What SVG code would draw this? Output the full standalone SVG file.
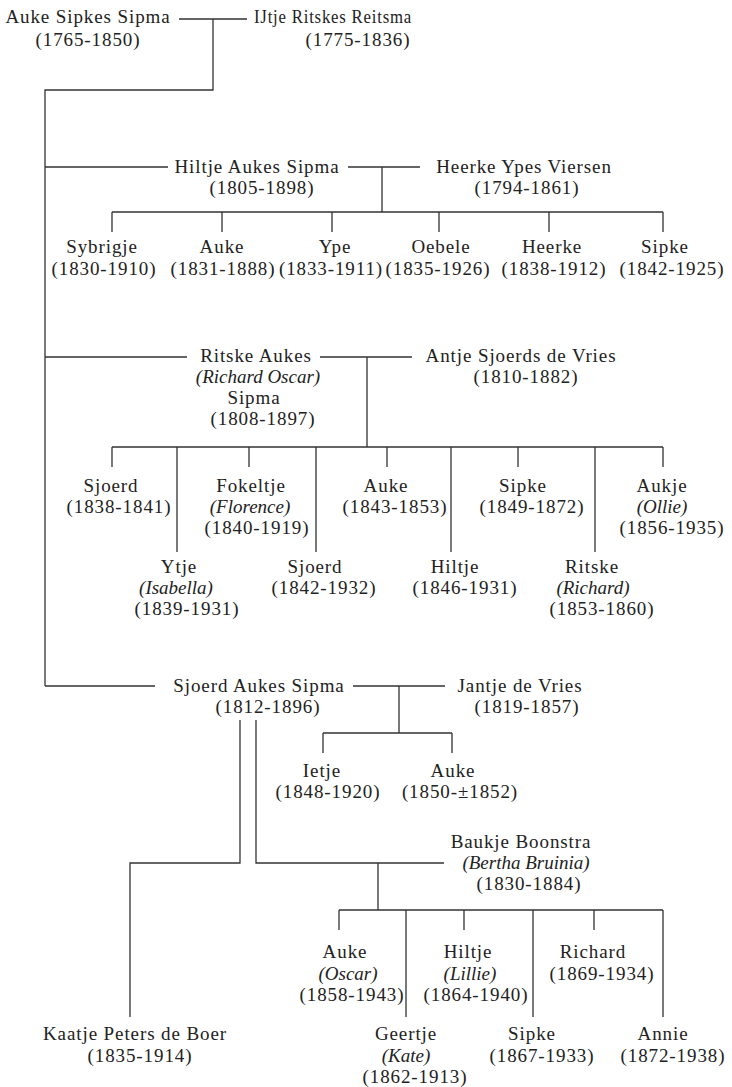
<svg xmlns="http://www.w3.org/2000/svg" width="732" height="1087" viewBox="0 0 732 1087">
<style>
text{font-family:"Liberation Serif","Times New Roman",serif;font-size:19px;letter-spacing:0.9px;fill:#222;text-anchor:middle}
.i{font-style:italic;font-size:19px;letter-spacing:0}
.s{text-anchor:start}
.c{stroke:#333;stroke-width:1.3;fill:none}
</style>
<rect width="732" height="1087" fill="#fff"/>
<g id="connectors" class="c">
<path d="M179,19H247M213,19V90H45V686M45,167H168M45,357H187M45,686H155"/>
<path d="M348,167H420M382,167V212M112,212H663M112,212V232M222,212V232M332,212V232M439,212V232M549,212V232M663,212V232"/>
<path d="M320,357H412M367,357V447M112,447H663M112,447V467M249,447V467M387,447V467M518,447V467M663,447V467M177,447V552M316,447V552M451,447V552M595,447V552"/>
<path d="M353,686H445M399,686V733M323,733H452M323,733V753M452,733V753"/>
<path d="M240,720V863H130V1017M256,720V863H444M378,863V910M339,910H663M339,910V930M464,910V930M594,910V930M406,910V1017M533,910V1017M663,910V1017"/>
</g>
<g id="auke-sipkes"><text x="88" y="23">Auke Sipkes Sipma</text><text x="88" y="46">(1765-1850)</text></g>
<g id="ijtje-ritskes"><text class="s" x="254" y="23" textLength="158" lengthAdjust="spacingAndGlyphs">IJtje Ritskes Reitsma</text><text x="358" y="46">(1775-1836)</text></g>

<g id="hiltje-aukes"><text x="257" y="173">Hiltje Aukes Sipma</text><text x="262" y="194">(1805-1898)</text></g>
<g id="heerke-ypes"><text x="524" y="173">Heerke Ypes Viersen</text><text x="527" y="194">(1794-1861)</text></g>
<g id="sybrigje"><text x="102" y="253">Sybrigje</text><text x="104" y="275">(1830-1910)</text></g>
<g id="auke-1831"><text x="222" y="253">Auke</text><text x="223" y="275">(1831-1888)</text></g>
<g id="ype"><text x="335" y="253">Ype</text><text x="331" y="275">(1833-1911)</text></g>
<g id="oebele"><text x="441" y="253">Oebele</text><text x="438" y="275">(1835-1926)</text></g>
<g id="heerke"><text x="552" y="253">Heerke</text><text x="554" y="275">(1838-1912)</text></g>
<g id="sipke-1842"><text x="665" y="253">Sipke</text><text x="672" y="275">(1842-1925)</text></g>

<g id="ritske-aukes"><text x="256" y="362">Ritske Aukes</text><text class="i" x="258" y="383">(Richard Oscar)</text><text x="254" y="404">Sipma</text><text x="263" y="425">(1808-1897)</text></g>
<g id="antje-sjoerds"><text x="521" y="362">Antje Sjoerds de Vries</text><text x="526" y="383">(1810-1882)</text></g>
<g id="sjoerd-1838"><text x="111" y="492">Sjoerd</text><text x="119" y="513">(1838-1841)</text></g>
<g id="fokeltje"><text x="251" y="492">Fokeltje</text><text class="i" x="250" y="513">(Florence)</text><text x="257" y="534">(1840-1919)</text></g>
<g id="auke-1843"><text x="386" y="492">Auke</text><text x="395" y="513">(1843-1853)</text></g>
<g id="sipke-1849"><text x="523" y="492">Sipke</text><text x="532" y="513">(1849-1872)</text></g>
<g id="aukje"><text x="662" y="492">Aukje</text><text class="i" x="662" y="513">(Ollie)</text><text x="672" y="534">(1856-1935)</text></g>
<g id="ytje"><text x="179" y="573">Ytje</text><text class="i" x="176" y="594">(Isabella)</text><text x="187" y="615">(1839-1931)</text></g>
<g id="sjoerd-1842"><text x="315" y="573">Sjoerd</text><text x="324" y="594">(1842-1932)</text></g>
<g id="hiltje-1846"><text x="455" y="573">Hiltje</text><text x="465" y="594">(1846-1931)</text></g>
<g id="ritske-1853"><text x="592" y="573">Ritske</text><text class="i" x="593" y="594">(Richard)</text><text x="602" y="615">(1853-1860)</text></g>

<g id="sjoerd-aukes"><text x="259" y="692">Sjoerd Aukes Sipma</text><text x="268" y="713">(1812-1896)</text></g>
<g id="jantje-de-vries"><text x="520" y="692">Jantje de Vries</text><text x="527" y="713">(1819-1857)</text></g>
<g id="ietje"><text x="322" y="777">Ietje</text><text x="328" y="798">(1848-1920)</text></g>
<g id="auke-1850"><text x="453" y="777">Auke</text><text x="460" y="798">(1850-±1852)</text></g>

<g id="baukje-boonstra"><text x="521" y="848">Baukje Boonstra</text><text class="i" x="526" y="869">(Bertha Bruinia)</text><text x="529" y="890">(1830-1884)</text></g>
<g id="kaatje-peters"><text x="135" y="1040">Kaatje Peters de Boer</text><text x="140" y="1062">(1835-1914)</text></g>
<g id="auke-1858"><text x="345" y="958">Auke</text><text class="i" x="348" y="980">(Oscar)</text><text x="352" y="1001">(1858-1943)</text></g>
<g id="hiltje-1864"><text x="468" y="958">Hiltje</text><text class="i" x="470" y="980">(Lillie)</text><text x="476" y="1001">(1864-1940)</text></g>
<g id="richard"><text x="593" y="958">Richard</text><text x="602" y="980">(1869-1934)</text></g>
<g id="geertje"><text x="406" y="1040">Geertje</text><text class="i" x="406" y="1062">(Kate)</text><text x="415" y="1083">(1862-1913)</text></g>
<g id="sipke-1867"><text x="532" y="1040">Sipke</text><text x="542" y="1062">(1867-1933)</text></g>
<g id="annie"><text x="663" y="1040">Annie</text><text x="673" y="1062">(1872-1938)</text></g>
</svg>
